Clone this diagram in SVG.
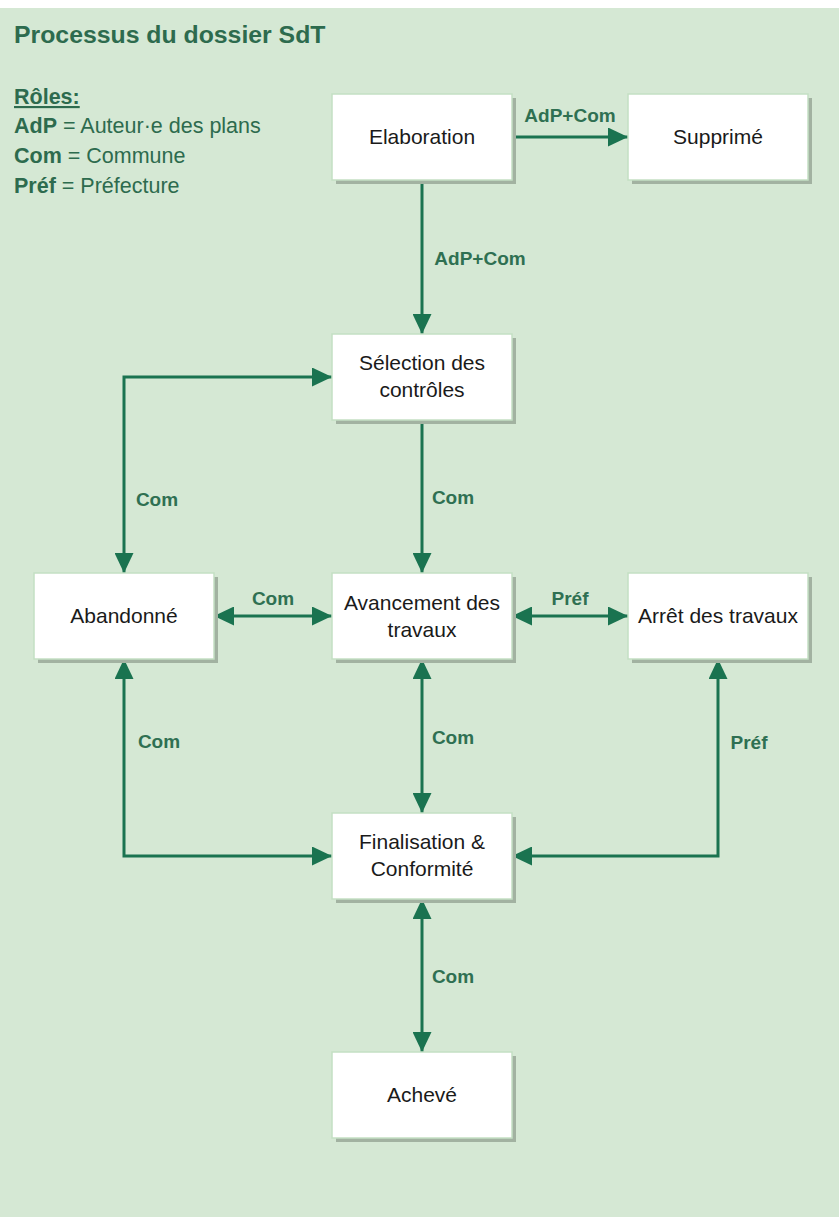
<svg xmlns="http://www.w3.org/2000/svg" width="839" height="1217" viewBox="0 0 839 1217">
<style>
.bg{fill:#d5e8d4}
.sh{fill:#a2b2a1}
.box{fill:#ffffff;stroke:#c4dfc3;stroke-width:1.5}
.nt{font-family:"Liberation Sans",Arial,sans-serif;font-size:21px;fill:#1a1a1a;text-anchor:middle}
.el{fill:none;stroke:#1a7350;stroke-width:3}
.lb{font-family:"Liberation Sans",Arial,sans-serif;font-size:19px;font-weight:bold;fill:#2f7052;text-anchor:middle}
.tt{font-family:"Liberation Sans",Arial,sans-serif;fill:#2d6b4e}
</style>
<defs>
<marker id="ah" markerUnits="userSpaceOnUse" markerWidth="20" markerHeight="19" refX="20" refY="9.5" orient="auto-start-reverse" viewBox="0 0 20 19">
<path d="M0,0 L20,9.5 L0,19 Z" fill="#1a7350"/>
</marker>
</defs>
<rect class="bg" x="0" y="8" width="839" height="1209"/>
<g id="title">
<text class="tt" x="14" y="43" font-size="24.8px" font-weight="bold">Processus du dossier SdT</text>
</g>
<g id="legend" class="tt" font-size="21.5px">
<text x="14" y="104" font-weight="bold" text-decoration="underline">Rôles:</text>
<text x="14" y="133"><tspan font-weight="bold">AdP</tspan> = Auteur·e des plans</text>
<text x="14" y="163"><tspan font-weight="bold">Com</tspan> = Commune</text>
<text x="14" y="193"><tspan font-weight="bold">Préf</tspan> = Préfecture</text>
</g>
<g id="connectors">
<path class="el" d="M512,137 H628" marker-end="url(#ah)"/>
<path class="el" d="M422,180 V334" marker-end="url(#ah)"/>
<path class="el" d="M422,420 V573" marker-end="url(#ah)"/>
<path class="el" d="M124,573 V377 H332" marker-start="url(#ah)" marker-end="url(#ah)"/>
<path class="el" d="M214,616 H332" marker-start="url(#ah)" marker-end="url(#ah)"/>
<path class="el" d="M512,616 H628" marker-start="url(#ah)" marker-end="url(#ah)"/>
<path class="el" d="M422,659 V813" marker-start="url(#ah)" marker-end="url(#ah)"/>
<path class="el" d="M124,659 V856 H332" marker-start="url(#ah)" marker-end="url(#ah)"/>
<path class="el" d="M718,659 V856 H512" marker-start="url(#ah)" marker-end="url(#ah)"/>
<path class="el" d="M422,899 V1052" marker-start="url(#ah)" marker-end="url(#ah)"/>
<text class="lb" x="570" y="122">AdP+Com</text>
<text class="lb" x="480" y="265">AdP+Com</text>
<text class="lb" x="453" y="504">Com</text>
<text class="lb" x="157" y="506">Com</text>
<text class="lb" x="273" y="605">Com</text>
<text class="lb" x="570" y="605">Préf</text>
<text class="lb" x="453" y="744">Com</text>
<text class="lb" x="159" y="748">Com</text>
<text class="lb" x="749" y="749">Préf</text>
<text class="lb" x="453" y="983">Com</text>
</g>
<g id="elaboration">
<rect class="sh" x="336" y="98" width="180" height="86"/>
<rect class="box" x="332" y="94" width="180" height="86"/>
<text class="nt" x="422" y="144">Elaboration</text>
</g>
<g id="supprime">
<rect class="sh" x="632" y="98" width="180" height="86"/>
<rect class="box" x="628" y="94" width="180" height="86"/>
<text class="nt" x="718" y="144">Supprimé</text>
</g>
<g id="selection">
<rect class="sh" x="336" y="338" width="180" height="86"/>
<rect class="box" x="332" y="334" width="180" height="86"/>
<text class="nt" x="422" y="370">Sélection des</text>
<text class="nt" x="422" y="397">contrôles</text>
</g>
<g id="abandonne">
<rect class="sh" x="38" y="577" width="180" height="86"/>
<rect class="box" x="34" y="573" width="180" height="86"/>
<text class="nt" x="124" y="623">Abandonné</text>
</g>
<g id="avancement">
<rect class="sh" x="336" y="577" width="180" height="86"/>
<rect class="box" x="332" y="573" width="180" height="86"/>
<text class="nt" x="422" y="610">Avancement des</text>
<text class="nt" x="422" y="637">travaux</text>
</g>
<g id="arret">
<rect class="sh" x="632" y="577" width="180" height="86"/>
<rect class="box" x="628" y="573" width="180" height="86"/>
<text class="nt" x="718" y="623">Arrêt des travaux</text>
</g>
<g id="finalisation">
<rect class="sh" x="336" y="817" width="180" height="86"/>
<rect class="box" x="332" y="813" width="180" height="86"/>
<text class="nt" x="422" y="849">Finalisation &amp;</text>
<text class="nt" x="422" y="876">Conformité</text>
</g>
<g id="acheve">
<rect class="sh" x="336" y="1056" width="180" height="86"/>
<rect class="box" x="332" y="1052" width="180" height="86"/>
<text class="nt" x="422" y="1102">Achevé</text>
</g>
</svg>
